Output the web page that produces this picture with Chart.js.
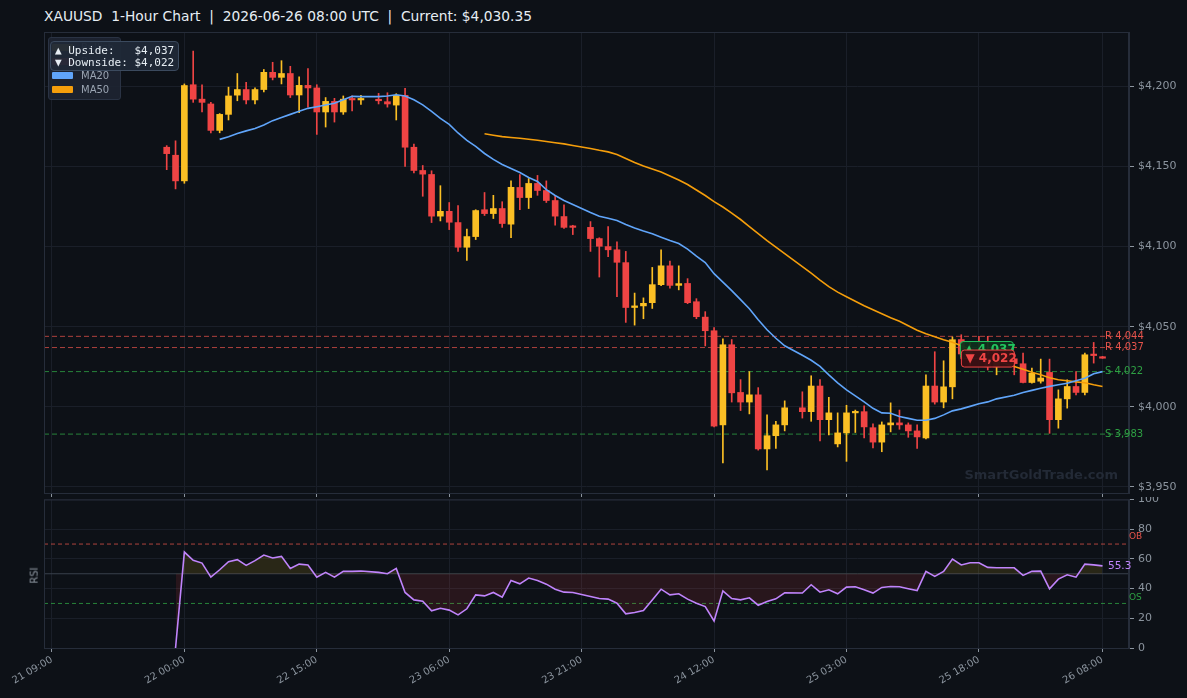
<!DOCTYPE html>
<html>
<head>
<meta charset="utf-8">
<script src="https://cdn.jsdelivr.net/npm/chart.js@4.4.1/dist/chart.umd.min.js"></script>
<style>
  body { margin: 0; background: #0d1117; width: 1187px; height: 698px; overflow: hidden; position: relative; font-family: 'DejaVu Sans', sans-serif; }
  #title { position: absolute; left: 44px; top: 8px; color: #e6edf3; font-size: 13.8px; white-space: pre; }
  #main { position: absolute; left: 0; top: 0; }
  #rsi { position: absolute; left: 0; top: 497px; }
  #legend { position: absolute; left: 48px; top: 37px; width: 71px; height: 61px; background: rgba(30,37,50,0.9); border: 1px solid #2a3344; border-radius: 3px; }
  .row { position: absolute; left: 3px; height: 10px; font-size: 10px; color: #9aa4b2; line-height: 10px; }
  .sw { position: absolute; left: 0; top: 1px; width: 21px; height: 7px; border-radius: 1px; }
  .row span { position: absolute; left: 29px; top: 0; white-space: pre; }
  #info { position: absolute; left: 50px; top: 41px; width: 129px; height: 30px; background: rgba(31,41,55,0.96); border: 1px solid #3b4a5e; border-radius: 4px; box-sizing: border-box; }
  #info div { position: absolute; left: 4px; font-family: 'DejaVu Sans Mono', monospace; font-size: 11px; color: #e6edf3; white-space: pre; line-height: 12px; }
  #rsilabel { position: absolute; left: 26px; top: 570px; font-size: 10px; color: #8b949e; transform: rotate(-90deg); transform-origin: center; }
</style>
</head>
<body>
<div id="title">XAUUSD  1-Hour Chart  |  2026-06-26 08:00 UTC  |  Current: $4,030.35</div>
<canvas id="main" width="1187" height="497"></canvas>
<canvas id="rsi" width="1187" height="201"></canvas>
<div id="legend">
  <div class="row" style="top:5px"><div class="sw" style="background:#fbbf24"></div><span>Bullish</span></div>
  <div class="row" style="top:19px"><div class="sw" style="background:#ef4444"></div><span>Bearish</span></div>
  <div class="row" style="top:33px"><div class="sw" style="background:#60a5fa"></div><span>MA20</span></div>
  <div class="row" style="top:47px"><div class="sw" style="background:#f59e0b"></div><span>MA50</span></div>
</div>
<div id="info">
  <div style="top:3px">▲ Upside:   $4,037</div>
  <div style="top:15px">▼ Downside: $4,022</div>
</div>
<div id="rsilabel">RSI</div>
<script>
// hours since 21 Jun 00:00 UTC (daily 21:00 break has no candle)
const hours = [22,23,24,25,26,27,28,29,30,31,32,33,34,35,36,37,38,39,40,41,42,43,44,
  46,47,48,49,50,51,52,53,54,55,56,57,58,59,60,61,62,63,64,65,66,67,68,
  70,71,72,73,74,75,76,77,78,79,80,81,82,83,84,85,86,87,88,89,90,91,92,
  94,95,96,97,98,99,100,101,102,103,104,105,106,107,108,109,110,111,112,113,114,115,116,
  118,119,120,121,122,123,124,125,126,127,128]

const opens = [4162,4157,4141,4201,4192,4189,4172.5,4182.5,4194.5,4198,4191.5,4198,4208.75,4205.6,4208,4194.6,4200.6,4199,4184,4190.6,4184,4192.2,4191.5,
  4191.5,4190.4,4188.3,4194.4,4162,4147.5,4145,4119,4122,4115,4099.6,4106.25,4123,4120.6,4123.75,4114,4136.9,4130.6,4139.4,4135,4128.75,4118.75,4112.5,
  4112,4105,4100,4098,4090,4062,4063,4065,4076.25,4088,4075.8,4077,4065.6,4056,4047.5,3988.75,4038.75,4009,4003,4007.5,3973.75,3982,3988.75,
  3999.4,3997,4013,3992,3976.9,3983.75,3996.25,3997,3987,3978,3988.75,3990,3988.75,3985,3980.6,4013,4003,4012.5,4042,4033,4036,4032,4025,
  4030,4026.9,4015.2,4016,4021.5,3992,4005,4012.7,4009,4032.7,4031]

const highs = [4163,4166,4201.5,4222,4201,4190,4183,4199.5,4208,4202.5,4199,4210.5,4215,4216,4212.5,4206,4211,4201,4193,4192.5,4194,4194,4194.4,
  4195.6,4196,4195.4,4198.75,4164,4150.6,4147.3,4138,4127.5,4125.6,4111,4123,4133.75,4132,4128,4141,4145,4142.5,4144.4,4141,4132,4126,4113.3,
  4115.6,4105.5,4112.5,4103,4097,4071,4068,4087,4098,4091,4088,4080,4067.5,4059.4,4049.4,4042.5,4042,4017,4022,4012,3995,3991,4003.75,
  4009.4,4019.4,4017,4006,3996.25,4001,3998,4000.6,3989.4,3990.6,4002.5,3998,3990,3988.75,4020,4034.4,4028.75,4043.6,4045,4040,4044,4044,4032,
  4033.5,4033.5,4024.2,4029.8,4029.8,4010.6,4016.9,4022,4033.5,4040.2,4031.5]

const lows = [4148,4136,4139.5,4190,4184,4171,4171,4179,4191,4189,4189,4196.5,4204,4201.5,4193,4183.5,4187,4170,4174.6,4177.7,4182.5,4184.6,4188.75,
  4189,4187,4179,4150,4146,4131.4,4115,4116,4110.6,4097,4091.4,4104.4,4119.4,4117.5,4112,4105.6,4123,4123.75,4132,4127.5,4113.3,4111.4,4107.5,
  4097,4081,4093.75,4068.75,4052.7,4051,4055,4061.4,4075.6,4074,4073,4064.4,4055,4038,3987.5,3965,4003,3997.7,3995.6,3973,3960.6,3974,3985,
  3993,3991,3978.75,3982.5,3975,3966,3984,3980.6,3974.4,3972,3984.4,3986,3981,3974,3980,4001.7,3999.4,4005,4030,4026,4030,4023,4020,
  4020,4015,4014.8,4014.8,3983.5,3986.7,3999.2,4007.5,4007.5,4027.3,4030.3]

const closes = [4158,4141,4200.5,4192,4190,4172.5,4182.5,4194,4198,4191.5,4198,4208.75,4205.6,4208,4194.6,4200.6,4199,4184,4190.6,4184,4192,4191.5,4192,
  4191,4189,4194.4,4162,4147.5,4145.2,4119,4122,4115.2,4099.6,4106.25,4122.5,4120.6,4123.75,4114.4,4137,4130.6,4139.4,4135,4128.75,4119,4112,4112,
  4105,4100.2,4098,4090.2,4062,4063,4064.6,4076.25,4088,4075.8,4076.9,4065,4056.25,4047.5,3988,4038.75,4008.75,4003,4007.5,3973.75,3982,3988.75,3999.4,
  3997,4013,3992,3996.25,3983.75,3996.25,3997,3987.5,3978,3988.75,3990,3988.75,3985,3981.25,4013,4003,4012.5,4041.9,4033,4036,4032,4025,4028,
  4027,4015.2,4021,4018,3992,4005,4012.7,4009,4032.5,4032,4030.35]

const ma20 = [null,null,null,null,null,null,
  4166.9,4168.6,4170.5,4172.2,4173.75,4175.9,4178.6,4180.6,4182.5,4184.4,4186.25,4187.3,4188.4,4189.4,4191.6,4193.75,4193.6,
  4193.6,4194,4194.7,4194,4191.6,4188.4,4184.4,4180,4176.25,4170.9,4166.25,4162.5,4158.1,4154.4,4151.25,4148.75,4146.25,4143.1,4140.6,4135.6,4131.9,4128.75,4126.25,
  4121.25,4118.9,4117.7,4116.25,4113.75,4111.6,4109.7,4108,4105.9,4103.75,4101.9,4098.4,4094.1,4090,4083.1,4077.8,4072.5,4066.9,4061.25,4054.4,4048.1,4042.8,4038.1,
  4032.2,4029.1,4025.3,4020,4015,4010.6,4006.9,4003.1,3999.1,3996.25,3996,3994,3992.8,3991.6,3991.6,3992.8,3995,3997.5,3998.75,4000.3,4001.9,4003.1,4005,
  4007.2,4009,4010.3,4011.6,4012.8,4013.75,4014.7,4016.25,4017.8,4020.6,4022]

const ma50 = [null,null,null,null,null,null,null,null,null,null,null,null,null,null,null,null,null,null,null,null,null,null,null,
  null,null,null,null,null,null,null,null,null,null,null,null,
  4170.4,4169.5,4168.6,4168.1,4167.6,4167,4166.4,4165.6,4164.8,4164.1,4163.1,
  4161.25,4160.1,4159.1,4157.5,4155,4152.5,4150.3,4148.4,4146.6,4144.1,4141.6,4138.75,4135.3,4131.9,4128.1,4124.7,4120.9,4116.9,4112.5,4108.1,4103.75,4099.7,4095.6,
  4087.5,4083.4,4079.1,4075,4071.6,4068.75,4065.9,4063.1,4060.6,4058.1,4055.6,4053.4,4050.6,4047.8,4045.6,4043.75,4041.9,4040.3,4038.1,4035.9,4033.4,4030.9,4028.75,
  4025.2,4023.4,4021.6,4020,4018.1,4016.9,4016.25,4015.6,4015,4013.75,4012.7]

const rsi = [null,
  0,64.6,59,57.2,47.7,52.7,58.1,59.5,55.6,58.8,62.6,60.6,61.7,53.6,56.5,55.9,47.7,50.9,47.7,51.6,51.6,51.8,
  50.9,50,53.6,37.4,32.4,31.5,25,26.8,25.5,22.3,26.4,35.8,35.1,37.4,34.2,45.5,43.2,47.1,45.5,43,39.6,37.6,37.4,
  34.7,33.3,32.9,30.2,23,23.9,25.2,32.4,39.6,35.8,36.5,32.9,30.2,27.9,18.2,38.5,33.3,32.4,33.8,28.8,31.3,33.1,37.2,
  37,42.6,37.6,39.2,36.5,41,41.2,39.2,37,40.8,41.4,41.2,39.9,38.7,51.6,48.2,51.6,59.9,55.9,57.4,57.4,54.3,54,
  54,48.9,51.6,51.8,39.9,46.4,49.3,47.7,56.5,56,55.3]

const levelValues = [4044, 4037, 4022, 3983]
const levelKinds = ['R', 'R', 'S', 'S']

const tickHours = [9, 24, 39, 54, 69, 84, 99, 114, 128]
const tickLabels = ['21 09:00', '22 00:00', '22 15:00', '23 06:00', '23 21:00', '24 12:00', '25 03:00', '25 18:00', '26 08:00']
const priceTicks = [3950, 4000, 4050, 4100, 4150, 4200]
const rsiTicks = [0, 20, 40, 60, 80, 100]

const X_MIN = 8.1
const X_MAX = 131.0
const BULL = '#fbbf24'
const BEAR = '#ef4444'
const GRID = '#1a1f29'
const EDGE = '#262d3a'
const LABEL = '#8b949e'

Chart.defaults.font.family = "'DejaVu Sans', sans-serif"
Chart.defaults.color = LABEL

function pts(values) {
    return hours.map((h, i) => ({ x: h, y: values[i] })).filter((p) => p.y !== null)
}

function flat(v) {
    return [{ x: X_MIN, y: v }, { x: X_MAX, y: v }]
}

// keep the plot box fixed: no extra room for half labels at the edges
function noEdgePadding(s) {
    s.paddingTop = 0
    s.paddingBottom = 0
    s.paddingLeft = 0
    s.paddingRight = 0
}

const candleColors = opens.map((o, i) => closes[i] >= o ? BULL : BEAR)

const mainDecor = {
    id: 'mainDecor',
    afterDraw(chart) {
        const { ctx, chartArea: a, scales: { x, y } } = chart
        ctx.save()
        ctx.strokeStyle = EDGE
        ctx.lineWidth = 1
        ctx.strokeRect(a.left + 0.5, a.top + 0.5, a.width - 1, a.height)

        ctx.font = "10px 'DejaVu Sans'"
        ctx.textBaseline = 'middle'
        ctx.textAlign = 'left'
        levelValues.forEach((v, i) => {
            ctx.fillStyle = levelKinds[i] === 'R' ? '#e5534b' : '#2ea043'
            ctx.fillText(levelKinds[i] + ' ' + v.toLocaleString('en-US'), a.right - 24, y.getPixelForValue(v))
        })

        // watermark
        ctx.font = "bold 13px 'DejaVu Sans'"
        ctx.textAlign = 'right'
        ctx.fillStyle = '#232a36'
        ctx.fillText('SmartGoldTrade.com', a.right - 11, a.bottom - 17)

        // current price tags
        const bx = x.getPixelForValue(111.9)
        const gy = y.getPixelForValue(4037) - 6
        ctx.font = "bold 12px 'DejaVu Sans'"
        ctx.textAlign = 'left'
        ctx.fillStyle = 'rgba(14,48,28,0.95)'
        ctx.strokeStyle = '#22c55e'
        ctx.beginPath(); ctx.roundRect(bx, gy, 53, 17, 3); ctx.fill(); ctx.stroke()
        ctx.fillStyle = '#22c55e'
        ctx.fillText('▲ 4,037', bx + 4, gy + 8)
        const ry = gy + 8.5
        ctx.fillStyle = 'rgba(58,16,20,0.97)'
        ctx.strokeStyle = '#ef4444'
        ctx.beginPath(); ctx.roundRect(bx + 1, ry, 53, 17, 3); ctx.fill(); ctx.stroke()
        ctx.fillStyle = '#ef4444'
        ctx.fillText('▼ 4,022', bx + 5, ry + 8.5)
        ctx.restore()
    }
}

const mainChart = new Chart(document.getElementById('main'), {
    type: 'bar',
    data: {
        datasets: [
            { type: 'line', label: 'MA20', data: pts(ma20), borderColor: '#60a5fa', borderWidth: 1.6, pointRadius: 0, order: 0 },
            { type: 'line', label: 'MA50', data: pts(ma50), borderColor: '#f59e0b', borderWidth: 1.6, pointRadius: 0, order: 0 },
            {
                type: 'bar', label: 'body',
                data: hours.map((h, i) => ({ x: h, y: [opens[i], closes[i]] })),
                backgroundColor: candleColors, barThickness: 6, minBarLength: 1.5, grouped: false, order: 1,
            },
            {
                type: 'bar', label: 'wick',
                data: hours.map((h, i) => ({ x: h, y: [lows[i], highs[i]] })),
                backgroundColor: candleColors, barThickness: 1, grouped: false, order: 2,
            },
            ...levelValues.map((v, i) => ({
                type: 'line', data: flat(v), pointRadius: 0, borderWidth: 1, borderDash: [5, 3], order: 3,
                borderColor: levelKinds[i] === 'R' ? 'rgba(229,83,75,0.75)' : 'rgba(46,160,67,0.8)',
            })),
        ],
    },
    options: {
        responsive: false,
        animation: false,
        devicePixelRatio: 1,
        layout: { padding: { left: 44, top: 32, right: 0, bottom: 0 } },
        plugins: { legend: { display: false }, tooltip: { enabled: false } },
        scales: {
            x: {
                type: 'linear', min: X_MIN, max: X_MAX, offset: false,
                grid: { color: GRID, offset: false, tickLength: 4, tickColor: LABEL },
                border: { color: EDGE },
                ticks: { display: false },
                afterBuildTicks: (s) => { s.ticks = tickHours.map((v) => ({ value: v })) },
                afterFit: (s) => { s.height = 4; noEdgePadding(s) },
            },
            y: {
                position: 'right', min: 3946.25, max: 4233.9,
                grid: { color: GRID, tickLength: 5, tickColor: LABEL },
                border: { color: EDGE },
                ticks: { font: { size: 11 }, padding: 4, callback: (v) => '$' + v.toLocaleString('en-US') },
                afterBuildTicks: (s) => { s.ticks = priceTicks.map((v) => ({ value: v })) },
                afterFit: (s) => { s.width = 58; noEdgePadding(s) },
            },
        },
    },
    plugins: [mainDecor],
})

const rsiDecor = {
    id: 'rsiDecor',
    afterDraw(chart) {
        const { ctx, chartArea: a, scales: { y } } = chart
        ctx.save()
        ctx.strokeStyle = EDGE
        ctx.lineWidth = 1
        ctx.strokeRect(a.left + 0.5, a.top + 0.5, a.width - 1, a.height)
        ctx.font = "9px 'DejaVu Sans'"
        ctx.textBaseline = 'middle'
        ctx.textAlign = 'left'
        ctx.fillStyle = '#e5534b'
        ctx.fillText('OB', a.right, y.getPixelForValue(70) - 7)
        ctx.fillStyle = '#2ea043'
        ctx.fillText('OS', a.right, y.getPixelForValue(30) - 6)
        ctx.font = "10.5px 'DejaVu Sans'"
        ctx.fillStyle = '#c084fc'
        const last = rsi[rsi.length - 1]
        ctx.fillText(last.toFixed(1), a.right - 21, y.getPixelForValue(last))
        ctx.restore()
    }
}

const rsiChart = new Chart(document.getElementById('rsi'), {
    type: 'line',
    data: {
        datasets: [
            {
                data: pts(rsi), borderColor: '#c084fc', borderWidth: 1.6, pointRadius: 0, order: 0,
                fill: { target: { value: 50 }, above: 'rgba(250,204,21,0.12)', below: 'rgba(239,68,68,0.12)' },
            },
            { data: flat(70), borderColor: 'rgba(229,83,75,0.75)', borderWidth: 1, borderDash: [4, 3], pointRadius: 0, order: 1 },
            { data: flat(30), borderColor: 'rgba(46,160,67,0.8)', borderWidth: 1, borderDash: [4, 3], pointRadius: 0, order: 1 },
            { data: flat(50), borderColor: '#39404c', borderWidth: 1, pointRadius: 0, order: 2 },
        ],
    },
    options: {
        responsive: false,
        animation: false,
        devicePixelRatio: 1,
        layout: { padding: { left: 44, top: 2.5, right: 0, bottom: 0 } },
        plugins: { legend: { display: false }, tooltip: { enabled: false } },
        scales: {
            x: {
                type: 'linear', min: X_MIN, max: X_MAX, offset: false,
                grid: { color: GRID, tickLength: 4, tickColor: LABEL },
                border: { color: EDGE },
                ticks: {
                    font: { size: 10 }, minRotation: 30, maxRotation: 30, padding: 2,
                    callback: (v) => tickLabels[tickHours.indexOf(v)],
                },
                afterBuildTicks: (s) => { s.ticks = tickHours.map((v) => ({ value: v })) },
                afterFit: (s) => { s.height = 50; noEdgePadding(s) },
            },
            y: {
                position: 'right', min: 0, max: 100,
                grid: { color: GRID, tickLength: 5, tickColor: LABEL },
                border: { color: EDGE },
                ticks: { font: { size: 11 }, padding: 4 },
                afterBuildTicks: (s) => { s.ticks = rsiTicks.map((v) => ({ value: v })) },
                afterFit: (s) => { s.width = 58; noEdgePadding(s) },
            },
        },
    },
    plugins: [rsiDecor],
})
</script>
</body>
</html>
